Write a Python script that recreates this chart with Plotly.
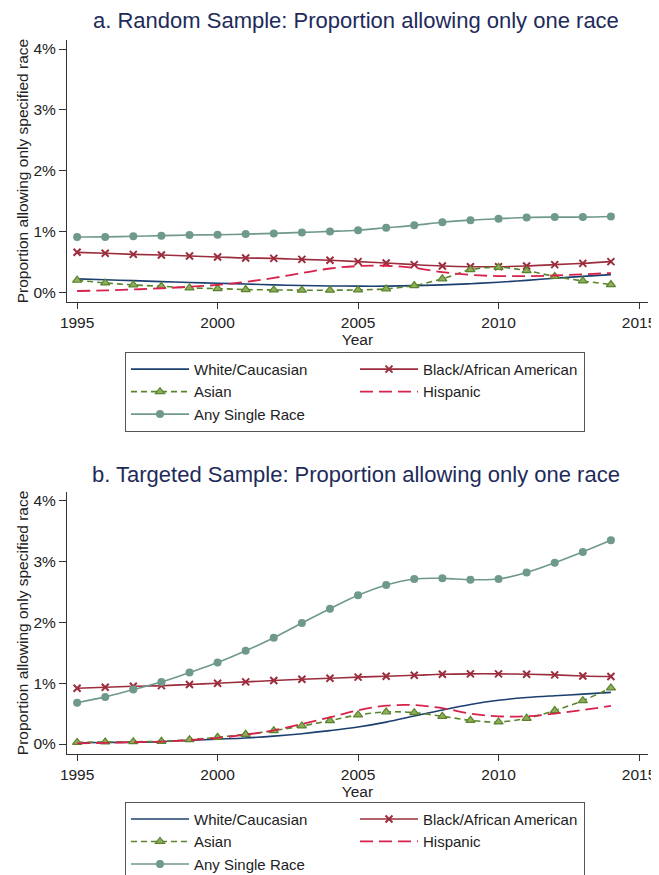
import plotly.graph_objects as go

years = list(range(1995, 2015))

# Panel a: Random sample (percent)
a_white = [0.22, 0.205, 0.19, 0.175, 0.16, 0.148, 0.135, 0.12, 0.11, 0.103, 0.10, 0.10, 0.108, 0.12, 0.14, 0.165, 0.195, 0.23, 0.26, 0.29]
a_black = [0.656, 0.64, 0.623, 0.612, 0.596, 0.58, 0.563, 0.557, 0.54, 0.525, 0.503, 0.48, 0.454, 0.432, 0.42, 0.42, 0.432, 0.454, 0.475, 0.503]
a_asian = [0.197, 0.153, 0.12, 0.098, 0.071, 0.06, 0.044, 0.038, 0.033, 0.033, 0.038, 0.055, 0.11, 0.22, 0.37, 0.41, 0.355, 0.26, 0.186, 0.126]
a_hisp = [0.02, 0.03, 0.045, 0.065, 0.09, 0.12, 0.17, 0.235, 0.315, 0.39, 0.43, 0.435, 0.40, 0.33, 0.285, 0.265, 0.265, 0.275, 0.295, 0.315]
a_any = [0.907, 0.91, 0.92, 0.93, 0.94, 0.945, 0.956, 0.967, 0.984, 1.0, 1.02, 1.06, 1.10, 1.15, 1.185, 1.21, 1.23, 1.235, 1.235, 1.245]

# Panel b: Targeted sample (percent)
b_white = [0.02, 0.025, 0.03, 0.04, 0.06, 0.08, 0.10, 0.13, 0.17, 0.22, 0.28, 0.36, 0.46, 0.56, 0.65, 0.72, 0.765, 0.795, 0.82, 0.85]
b_black = [0.918, 0.934, 0.95, 0.96, 0.98, 1.0, 1.022, 1.044, 1.066, 1.082, 1.10, 1.115, 1.13, 1.148, 1.154, 1.154, 1.148, 1.137, 1.12, 1.11]
b_asian = [0.027, 0.033, 0.038, 0.044, 0.071, 0.11, 0.16, 0.22, 0.297, 0.385, 0.478, 0.527, 0.516, 0.456, 0.39, 0.363, 0.423, 0.55, 0.714, 0.923]
b_hisp = [0.01, 0.02, 0.03, 0.04, 0.065, 0.10, 0.154, 0.225, 0.33, 0.44, 0.555, 0.63, 0.64, 0.59, 0.50, 0.456, 0.456, 0.50, 0.56, 0.626]
b_any = [0.68, 0.775, 0.896, 1.02, 1.176, 1.34, 1.533, 1.747, 1.99, 2.225, 2.445, 2.615, 2.714, 2.725, 2.703, 2.714, 2.82, 2.98, 3.16, 3.35]

series_names = ["White/Caucasian", "Black/African American", "Asian", "Hispanic", "Any Single Race"]
titles = ["a. Random Sample: Proportion allowing only one race",
          "b. Targeted Sample: Proportion allowing only one race"]
y_ticks = [0, 1, 2, 3, 4]
y_ticklabels = ["0%", "1%", "2%", "3%", "4%"]
x_ticks = [1995, 2000, 2005, 2010, 2015]

FONT = "Liberation Sans, Arial, sans-serif"
C_WHITE = "#1b3f6e"
C_BLACK = "#9b2d3c"
C_ASIAN = "#5a842c"
C_HISP = "#d7224b"
C_ANY = "#6f998a"

styles = [
    dict(mode="lines", line=dict(color=C_WHITE, width=1.6, shape="spline")),
    dict(mode="lines+markers", line=dict(color=C_BLACK, width=1.6, shape="spline"),
         marker=dict(symbol="x-thin", size=7, line=dict(color=C_BLACK, width=2))),
    dict(mode="lines+markers", line=dict(color=C_ASIAN, width=1.6, shape="spline", dash="6px,4px"),
         marker=dict(symbol="triangle-up", size=8, color="#8fae5c", line=dict(color=C_ASIAN, width=1.2))),
    dict(mode="lines", line=dict(color=C_HISP, width=1.8, shape="spline", dash="13px,6px")),
    dict(mode="lines+markers", line=dict(color=C_ANY, width=1.6, shape="spline"),
         marker=dict(symbol="circle", size=8, color=C_ANY)),
]

fig = go.Figure()
panels = [
    ([a_white, a_black, a_asian, a_hisp, a_any], "x", "y", "legend"),
    ([b_white, b_black, b_asian, b_hisp, b_any], "x2", "y2", "legend2"),
]
for vals, xa, ya, lg in panels:
    for name, v, st in zip(series_names, vals, styles):
        fig.add_trace(go.Scatter(x=years, y=v, name=name, xaxis=xa, yaxis=ya,
                                 legend=lg, **st))

# geometry: page pixels of the reference; the page body adds an 8px offset
OFF = 8
W, H = 659 - OFF, 875 - OFF
L, R = 67 - OFF, 648 - OFF
TOP, BOT = 40 - OFF, 754.3 - OFF
PH = BOT - TOP

def py(Y):
    return (BOT - (Y - OFF)) / PH

def px(X):
    return ((X - OFF) - L) / (R - L)

axis_common = dict(showline=True, linecolor="#333333", linewidth=1, ticks="outside",
                   tickcolor="#333333", showgrid=False, zeroline=False, automargin=False,
                   tickfont=dict(family=FONT, size=15.5, color="#222222"))

xrange = [1994.64, 2015.32]
yrange = [-0.164, 4.148]

def xax(anchor):
    return dict(domain=[0, 1], anchor=anchor, range=xrange, tickvals=x_ticks, ticklen=6,
                title=dict(text="Year", font=dict(family=FONT, size=15.5), standoff=0),
                **axis_common)

def yax(dom, anchor):
    return dict(domain=dom, anchor=anchor, range=yrange, tickvals=y_ticks,
                ticktext=y_ticklabels, ticklen=7,
                title=dict(text="Proportion allowing only specified race",
                           font=dict(family=FONT, size=15.5), standoff=1),
                **axis_common)

leg_common = dict(orientation="h", xanchor="left", yanchor="top",
                  entrywidth=156, itemwidth=58, bordercolor="#555555", borderwidth=1,
                  font=dict(family=FONT, size=15, color="#222222"), bgcolor="white")

fig.update_layout(
    width=W, height=H,
    margin=dict(l=L, r=W - R, t=TOP, b=H - BOT, autoexpand=False),
    paper_bgcolor="white", plot_bgcolor="white",
    font=dict(family=FONT, color="#222222"),
    xaxis=xax("y"),
    yaxis=yax([py(302.3), 1], "x"),
    xaxis2=xax("y2"),
    yaxis2=yax([0, py(492)], "x2"),
    legend=dict(x=px(125), y=py(352), **leg_common),
    legend2=dict(x=px(125), y=py(802), **leg_common),
    showlegend=True,
)

for t, Y in zip(titles, [20, 475]):
    fig.add_annotation(text=t, xref="paper", yref="paper", x=px(356), y=py(Y),
                       xanchor="center", yanchor="middle", showarrow=False,
                       font=dict(family=FONT, size=22, color="#1e2b5a"))

fig.write_html("out.html")
